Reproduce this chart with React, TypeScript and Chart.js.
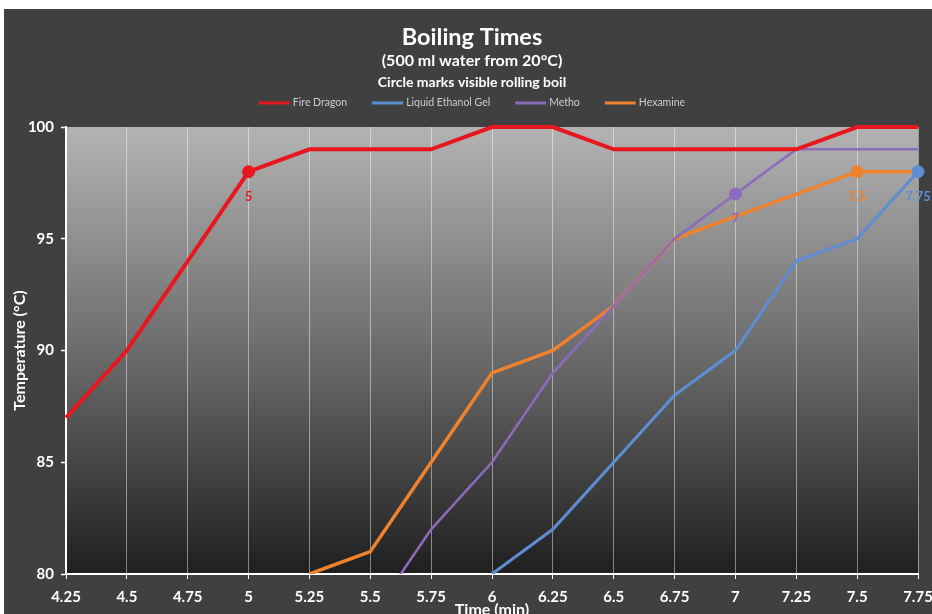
import React, { useEffect, useRef } from 'react';
import { Chart, registerables } from 'chart.js';

Chart.register(...registerables);

const times = ['4.25', '4.5', '4.75', '5', '5.25', '5.5', '5.75', '6', '6.25', '6.5', '6.75', '7', '7.25', '7.5', '7.75'];
const fireDragon = [87, 90, 94, 98, 99, 99, 99, 100, 100, 99, 99, 99, 99, 100, 100];
const liquidEthanolGel = [null, null, null, null, null, null, null, 80, 82, 85, 88, 90, 94, 95, 98];
const metho = [null, null, null, null, null, 78, 82, 85, 89, 92, 95, 97, 99, 99, 99];
const hexamine = [null, null, null, null, 80, 81, 85, 89, 90, 92, 95, 96, 97, 98, 98];
// index of the time at which a visible rolling boil was seen
const boilFire = 3;
const boilGel = 14;
const boilMetho = 11;
const boilHexamine = 13;

const titleText = 'Boiling Times';
const subtitleLines = ['(500 ml water from 20°C)', 'Circle marks visible rolling boil'];

const FONT = 'Lato, "Open Sans", "DejaVu Sans", sans-serif';

const series = [
  { label: 'Fire Dragon', data: fireDragon, color: '#e8161e', width: 4, boil: boilFire },
  { label: 'Liquid Ethanol Gel', data: liquidEthanolGel, color: '#5d8ed3', width: 3, boil: boilGel },
  { label: 'Metho', data: metho, color: '#8c6bbd', width: 2.5, boil: boilMetho },
  { label: 'Hexamine', data: hexamine, color: '#f0822d', width: 3.5, boil: boilHexamine },
];

const plotBackground = {
  id: 'plotBackground',
  beforeDraw(chart: any) {
    const { ctx, chartArea } = chart;
    if (!chartArea) return;
    const g = ctx.createLinearGradient(0, chartArea.top, 0, chartArea.bottom);
    g.addColorStop(0, '#b3b3b3');
    g.addColorStop(0.5, '#6c6c6c');
    g.addColorStop(1, '#1f1f1f');
    ctx.save();
    ctx.fillStyle = g;
    ctx.fillRect(chartArea.left, chartArea.top, chartArea.right - chartArea.left, chartArea.bottom - chartArea.top);
    ctx.restore();
  },
};

const header = {
  id: 'header',
  afterDraw(chart: any) {
    const { ctx, width } = chart;
    const cx = width / 2 + 4;
    ctx.save();
    ctx.fillStyle = '#ffffff';
    ctx.textAlign = 'center';
    ctx.textBaseline = 'middle';
    ctx.font = `bold 23.5px ${FONT}`;
    ctx.fillText(titleText, cx, 28);
    ctx.font = `bold 16px ${FONT}`;
    ctx.fillText(subtitleLines[0], cx, 52);
    ctx.font = `bold 14px ${FONT}`;
    ctx.fillText(subtitleLines[1], cx, 73);

    // legend
    ctx.font = `10.5px ${FONT}`;
    const lineW = 31;
    const gap = 3;
    const spacing = 25;
    const widths = series.map((s) => lineW + gap + ctx.measureText(s.label).width);
    const total = widths.reduce((a, b) => a + b, 0) + spacing * (series.length - 1);
    let x = cx - total / 2;
    const y = 94;
    series.forEach((s, i) => {
      ctx.strokeStyle = s.color;
      ctx.lineWidth = 3;
      ctx.beginPath();
      ctx.moveTo(x, y);
      ctx.lineTo(x + lineW, y);
      ctx.stroke();
      ctx.fillStyle = '#cccccc';
      ctx.textAlign = 'left';
      ctx.fillText(s.label, x + lineW + gap, y);
      x += widths[i] + spacing;
    });
    ctx.restore();
  },
};

const boilLabels = {
  id: 'boilLabels',
  afterDatasetsDraw(chart: any) {
    const { ctx } = chart;
    ctx.save();
    ctx.font = `bold 13px ${FONT}`;
    ctx.textAlign = 'center';
    ctx.textBaseline = 'middle';
    series.forEach((s, i) => {
      const meta = chart.getDatasetMeta(i);
      const pt = meta.data[s.boil];
      if (!pt) return;
      ctx.fillStyle = s.color;
      ctx.fillText(times[s.boil], pt.x, pt.y + 25);
    });
    ctx.restore();
  },
};

export default function App() {
  const ref = useRef<HTMLCanvasElement | null>(null);

  useEffect(() => {
    document.body.style.margin = '0';
    const canvas = ref.current;
    if (!canvas) return;
    const tickFont = { family: FONT, size: 15, weight: 'bold' as const };
    const chart = new Chart(canvas, {
      type: 'line',
      data: {
        labels: times,
        datasets: series.map((s) => ({
          label: s.label,
          data: s.data,
          borderColor: s.color,
          backgroundColor: s.color,
          borderWidth: s.width,
          tension: 0,
          fill: false,
          clip: { left: 2, top: 4, right: 10, bottom: 0 } as any,
          pointRadius: (c: any) => (c.dataIndex === s.boil ? 6 : 0),
          pointHoverRadius: (c: any) => (c.dataIndex === s.boil ? 6 : 0),
          pointBackgroundColor: s.color,
          pointBorderColor: s.color,
          pointBorderWidth: 1,
        })),
      },
      options: {
        responsive: false,
        animation: false,
        events: [],
        layout: { padding: { top: 118, left: 0, right: 14, bottom: 0 } },
        plugins: {
          legend: { display: false },
          title: { display: false },
          tooltip: { enabled: false },
        },
        scales: {
          x: {
            type: 'category',
            offset: false,
            ticks: { color: '#ffffff', font: tickFont, padding: 9, autoSkip: false, maxRotation: 0 },
            grid: { color: 'rgba(255,255,255,0.45)', tickColor: '#ffffff', tickLength: 5, offset: false, lineWidth: 1 },
            border: { color: '#ffffff', width: 2 },
            title: {
              display: true,
              text: 'Time (min)',
              color: '#ffffff',
              font: { family: FONT, size: 16, weight: 'bold' },
              padding: { top: 0, bottom: -5 },
            },
            afterFit: (s: any) => {
              s.height = 40;
              s.paddingLeft = 0;
              s.paddingRight = 0;
            },
          },
          y: {
            min: 80,
            max: 100,
            ticks: { stepSize: 5, color: '#ffffff', font: tickFont, padding: 7 },
            grid: { drawOnChartArea: false, color: '#ffffff', tickLength: 5, tickWidth: 1.5 },
            border: { color: '#ffffff', width: 2 },
            title: {
              display: true,
              text: 'Temperature (°C)',
              color: '#ffffff',
              font: { family: FONT, size: 16, weight: 'bold' },
              padding: { top: 6, bottom: 0 },
            },
            afterFit: (s: any) => {
              s.width = 62;
            },
          },
        },
      },
      plugins: [plotBackground, header, boilLabels],
    });
    return () => chart.destroy();
  }, []);

  return (
    <div style={{ marginLeft: 4, paddingTop: 9, background: '#ffffff' }}>
      <div style={{ width: 928, height: 605, background: '#404040' }}>
        <canvas ref={ref} width={928} height={605} style={{ display: 'block' }} />
      </div>
    </div>
  );
}
